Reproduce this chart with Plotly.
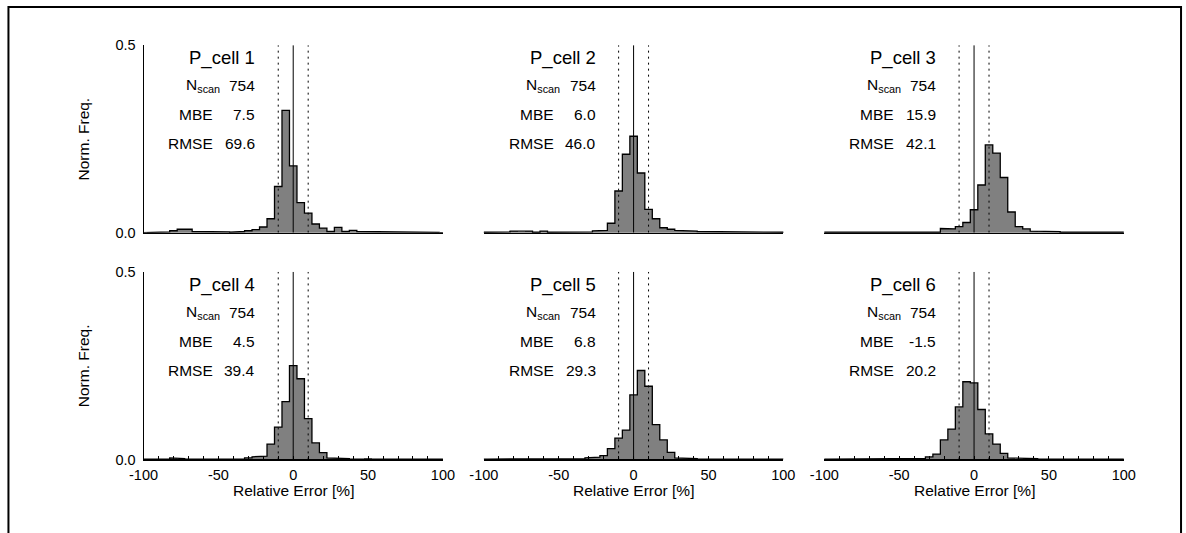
import plotly.graph_objects as go

# ---------------- data ----------------
bin_centers = list(range(-100, 105, 5))          # 41 bins, width 5 %
panel_names = ["P_cell 1", "P_cell 2", "P_cell 3", "P_cell 4", "P_cell 5", "P_cell 6"]
n_scan = ["754", "754", "754", "754", "754", "754"]
mbe = ["7.5", "6.0", "15.9", "4.5", "6.8", "-1.5"]
rmse = ["69.6", "46.0", "42.1", "39.4", "29.3", "20.2"]

freq_1 = [0.000, 0.001, 0.001, 0.002, 0.005, 0.009, 0.009, 0.003, 0.004, 0.002,
          0.002, 0.002, 0.001, 0.003, 0.005, 0.008, 0.015, 0.037, 0.123, 0.326,
          0.178, 0.080, 0.052, 0.023, 0.012, 0.003, 0.014, 0.003, 0.006, 0.003,
          0.002, 0.002, 0.002, 0.001, 0.001, 0.002, 0.001, 0.002, 0.001, 0.001,
          0.000]
freq_2 = [0.001, 0.001, 0.001, 0.002, 0.004, 0.002, 0.004, 0.001, 0.004, 0.001,
          0.001, 0.001, 0.002, 0.003, 0.002, 0.005, 0.006, 0.025, 0.111, 0.209,
          0.257, 0.159, 0.062, 0.037, 0.013, 0.009, 0.006, 0.005, 0.004, 0.003,
          0.003, 0.003, 0.002, 0.002, 0.002, 0.002, 0.001, 0.002, 0.002, 0.001,
          0.001]
freq_3 = [0.001, 0.001, 0.001, 0.001, 0.003, 0.001, 0.002, 0.002, 0.001, 0.001,
          0.001, 0.001, 0.001, 0.001, 0.001, 0.001, 0.011, 0.010, 0.016, 0.027,
          0.061, 0.127, 0.234, 0.212, 0.147, 0.055, 0.016, 0.010, 0.004, 0.002,
          0.003, 0.003, 0.001, 0.001, 0.001, 0.001, 0.001, 0.003, 0.001, 0.001,
          0.001]
freq_4 = [0.001, 0.001, 0.001, 0.001, 0.004, 0.002, 0.001, 0.001, 0.001, 0.001,
          0.001, 0.001, 0.001, 0.001, 0.004, 0.007, 0.009, 0.041, 0.086, 0.154,
          0.250, 0.215, 0.109, 0.044, 0.018, 0.004, 0.003, 0.002, 0.001, 0.001,
          0.003, 0.002, 0.001, 0.001, 0.001, 0.001, 0.001, 0.001, 0.001, 0.001,
          0.001]
freq_5 = [0.001, 0.001, 0.001, 0.001, 0.001, 0.001, 0.001, 0.001, 0.001, 0.001,
          0.001, 0.001, 0.001, 0.002, 0.004, 0.006, 0.010, 0.029, 0.057, 0.078,
          0.172, 0.237, 0.195, 0.093, 0.052, 0.019, 0.004, 0.003, 0.002, 0.001,
          0.001, 0.001, 0.002, 0.001, 0.001, 0.001, 0.001, 0.001, 0.001, 0.001,
          0.001]
freq_6 = [0.001, 0.001, 0.001, 0.001, 0.001, 0.001, 0.001, 0.001, 0.001, 0.001,
          0.001, 0.001, 0.001, 0.003, 0.007, 0.014, 0.052, 0.081, 0.140, 0.207,
          0.204, 0.133, 0.068, 0.041, 0.016, 0.004, 0.002, 0.003, 0.002, 0.001,
          0.001, 0.001, 0.001, 0.001, 0.001, 0.001, 0.001, 0.001, 0.001, 0.001,
          0.001]
freqs = [freq_1, freq_2, freq_3, freq_4, freq_5, freq_6]

x_tick_vals = [-100, -50, 0, 50, 100]
x_tick_labels = ["-100", "-50", "0", "50", "100"]
x_minor_step = 10
y_tick_vals = [0.0, 0.5]
y_tick_labels = ["0.0", "0.5"]
ref_lines = [-10, 0, 10]

# ---------------- layout geometry (page pixels) ----------------
W, H = 1186, 533
FONT = "Liberation Sans, Arial, Helvetica, sans-serif"
col_x0 = [131.5, 479.8, 828.2]
col_w = 306.4
row_y = [(38.3, 231.6), (272.0, 465.4)]
BIN_W = 5
FS_TICK, FS_STAT, FS_NAME, FS_TITLE = 14.5, 15.5, 18.5, 15.5

fig = go.Figure()
layout = dict(
    width=W, height=H,
    margin=dict(l=0, r=0, t=0, b=0),
    paper_bgcolor="white", plot_bgcolor="white",
    showlegend=False,
    font=dict(family=FONT, size=FS_TICK, color="black"),
    bargap=0,
)
shapes = []
annotations = []

for i in range(6):
    r, c = divmod(i, 3)
    ax = "" if i == 0 else str(i + 1)
    xa, ya = "x" + ax, "y" + ax
    freq = freqs[i]

    fig.add_trace(go.Bar(
        x=bin_centers, y=freq, width=BIN_W,
        marker=dict(color="#808080", line=dict(width=0)),
        xaxis=xa, yaxis=ya, hoverinfo="skip",
    ))
    # step outline of the histogram
    xs = [bin_centers[0] - BIN_W / 2]
    ys = [0]
    for cx, h in zip(bin_centers, freq):
        xs += [cx - BIN_W / 2, cx + BIN_W / 2]
        ys += [h, h]
    xs.append(bin_centers[-1] + BIN_W / 2)
    ys.append(0)
    fig.add_trace(go.Scatter(
        x=xs, y=ys, mode="lines",
        line=dict(color="black", width=1.3),
        xaxis=xa, yaxis=ya, hoverinfo="skip",
    ))

    x0 = col_x0[c]
    ytop, ybot = row_y[r]
    bottom = (r == 1)
    xdef = dict(
        domain=[x0 / W, (x0 + col_w) / W],
        range=[-100, 100], anchor=ya,
        showline=True, linecolor="black", linewidth=1.5,
        showgrid=False, zeroline=False,
        fixedrange=True,
    )
    if bottom:
        xdef.update(
            ticks="inside", tickvals=x_tick_vals, ticktext=x_tick_labels,
            ticklen=3, tickwidth=1, tickcolor="black",
            showticklabels=True,
            tickfont=dict(size=FS_TICK, family=FONT, color="black"),
            ticklabelstandoff=2,
            minor=dict(ticks="inside", dtick=x_minor_step, tick0=0,
                       ticklen=3, tickwidth=1, tickcolor="black", showgrid=False),
        )
    else:
        xdef.update(ticks="", showticklabels=False)
    layout["xaxis" + ax] = xdef

    first_col = (c == 0)
    ydef = dict(
        domain=[1 - ybot / H, 1 - ytop / H],
        range=[0, 0.5], anchor=xa,
        showgrid=False, zeroline=False,
        fixedrange=True,
    )
    if first_col:
        ydef.update(
            showline=True, linecolor="black", linewidth=1,
            ticks="inside", tickvals=y_tick_vals, ticktext=y_tick_labels,
            ticklen=5, tickwidth=1, tickcolor="black",
            showticklabels=True,
            tickfont=dict(size=FS_TICK, family=FONT, color="black"),
            ticklabelstandoff=4,
        )
    else:
        ydef.update(showline=False, ticks="", showticklabels=False)
    layout["yaxis" + ax] = ydef

    for xv in ref_lines:
        shapes.append(dict(
            type="line", xref=xa, yref=ya, x0=xv, x1=xv, y0=0, y1=0.5,
            line=dict(color="black", width=1, dash="solid" if xv == 0 else "2px,4px"),
            layer="above",
        ))

    def ann(x, y, text, size):
        annotations.append(dict(
            x=x, y=y, xref=xa, yref=ya, text=text, showarrow=False,
            xanchor="right", yanchor="middle",
            font=dict(size=size, family=FONT, color="black"),
        ))

    ann(-24, 0.466, panel_names[i], FS_NAME)
    ann(-47.5, 0.392, "N<sub>scan</sub>", FS_STAT)
    ann(-24, 0.392, n_scan[i], FS_STAT)
    ann(-52, 0.314, "MBE", FS_STAT)
    ann(-24, 0.314, mbe[i], FS_STAT)
    ann(-52, 0.238, "RMSE", FS_STAT)
    ann(-24, 0.238, rmse[i], FS_STAT)

    if bottom:
        annotations.append(dict(
            x=0, y=1 - 497 / H, xref=xa, yref="paper",
            text="Relative Error [%]", showarrow=False,
            xanchor="center", yanchor="middle",
            font=dict(size=FS_TITLE, family=FONT, color="black"),
        ))
    if first_col:
        annotations.append(dict(
            x=70.2 / W, y=1 - (ytop + ybot) / 2 / H, xref="paper", yref="paper",
            text="Norm. Freq.", showarrow=False, textangle=-90,
            xanchor="center", yanchor="middle",
            font=dict(size=FS_TITLE, family=FONT, color="black"),
        ))

# outer frame (open at the bottom, as in the reference)
shapes.append(dict(
    type="rect", xref="paper", yref="paper",
    x0=-6.7 / W, x1=1193.2 / W, y0=-0.2, y1=1 + 1.0 / H,
    line=dict(color="black", width=2), fillcolor="rgba(0,0,0,0)", layer="below",
))

layout["shapes"] = shapes
layout["annotations"] = annotations
fig.update_layout(**layout)
fig.write_html(
    "out.html",
    config={"displayModeBar": False, "staticPlot": True},
    post_script="document.body.style.margin='0';document.body.style.overflow='hidden';"
                "document.documentElement.style.overflow='hidden';",
)
